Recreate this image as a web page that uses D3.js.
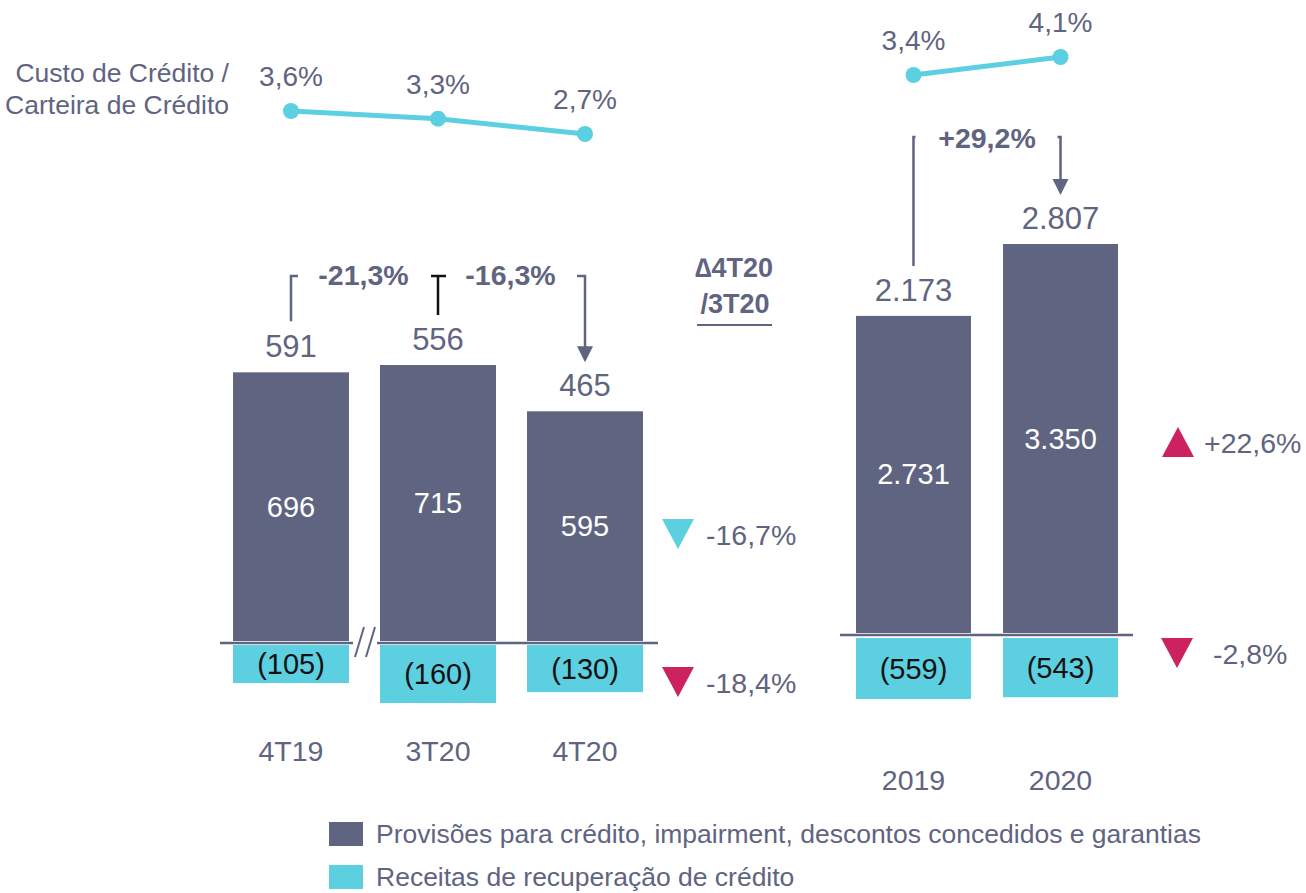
<!DOCTYPE html>
<html>
<head>
<meta charset="utf-8">
<script src="https://cdn.jsdelivr.net/npm/d3@7"></script>
<style>
  body { margin: 0; background: #fff; }
  text { font-family: "Liberation Sans", Arial, sans-serif; }
</style>
</head>
<body>
<div id="chart"></div>
<script>
// quarterly panel
const quarters = ["4T19", "3T20", "4T20"];
const quarterProv = [696, 715, 595];
const quarterRecov = [105, 160, 130];
const quarterNet = [591, 556, 465];
const quarterCost = [3.6, 3.3, 2.7];
// yearly panel
const years = ["2019", "2020"];
const yearProv = [2731, 3350];
const yearRecov = [559, 543];
const yearNet = [2173, 2807];
const yearCost = [3.4, 4.1];
// variations
const netChangeQ = ["-21,3%", "-16,3%"];
const netChangeY = "+29,2%";
const provChangeQ = "-16,7%", recovChangeQ = "-18,4%";
const provChangeY = "+22,6%", recovChangeY = "-2,8%";
const legendItems = ["Provisões para crédito, impairment, descontos concedidos e garantias",
  "Receitas de recuperação de crédito"];

const DARK = "#5f6481", CYAN = "#5ccfe1", MAG = "#cc2360", TXT = "#5f6481";

const br = d3.formatLocale({decimal: ",", thousands: ".", grouping: [3], currency: ["R$", ""]});
const fmtInt = br.format(",d");
const fmtPct = v => br.format(".1f")(v) + "%";

const svg = d3.select("#chart").append("svg")
  .attr("width", 1306).attr("height", 893);

// scales
const xQ = d3.scaleBand().domain(quarters).range([233, 643]).paddingInner(0.211);
const xY = d3.scaleBand().domain(years).range([856, 1118]).paddingInner(0.218);
const yQ = d3.scaleLinear().domain([0, 715]).range([641, 365]);
const yQn = d3.scaleLinear().domain([0, 160]).range([645, 703]);
const yY = d3.scaleLinear().domain([0, 3350]).range([633, 244]);
const yYn = d3.scaleLinear().domain([0, 559]).range([638, 699]);
const lineQ = d3.scaleLinear().domain([2.7, 3.6]).range([134, 111]);
const lineY = d3.scaleLinear().domain([3.4, 4.1]).range([75, 57]);

function panel(cats, x, y, yn, prov, recov, net, cost, yl, axisX, axisY, catY) {
  const g = svg.append("g");
  const cx = c => x(c) + x.bandwidth() / 2;

  g.selectAll(".prov").data(cats).enter().append("rect")
    .attr("x", d => x(d)).attr("width", x.bandwidth())
    .attr("y", (d, i) => y(prov[i])).attr("height", (d, i) => y(0) - y(prov[i]))
    .attr("fill", DARK);
  g.selectAll(".recov").data(cats).enter().append("rect")
    .attr("x", d => x(d)).attr("width", x.bandwidth())
    .attr("y", yn(0)).attr("height", (d, i) => yn(recov[i]) - yn(0))
    .attr("fill", CYAN);

  g.append("line").attr("x1", axisX[0]).attr("x2", axisX[1])
    .attr("y1", axisY).attr("y2", axisY)
    .attr("stroke", DARK).attr("stroke-width", 2.5);

  // values inside bars
  g.selectAll(".pv").data(cats).enter().append("text")
    .attr("x", cx).attr("y", (d, i) => (y(prov[i]) + y(0)) / 2)
    .attr("text-anchor", "middle").attr("dominant-baseline", "central")
    .attr("fill", "#fff").style("font-size", "29px")
    .text((d, i) => fmtInt(prov[i]));
  g.selectAll(".rv").data(cats).enter().append("text")
    .attr("x", cx).attr("y", (d, i) => (yn(recov[i]) + yn(0)) / 2)
    .attr("text-anchor", "middle").attr("dominant-baseline", "central")
    .attr("fill", "#111").style("font-size", "29px")
    .text((d, i) => "(" + fmtInt(recov[i]) + ")");
  // net values on top
  g.selectAll(".nv").data(cats).enter().append("text")
    .attr("x", cx).attr("y", (d, i) => y(prov[i]) - 15)
    .attr("text-anchor", "middle")
    .attr("fill", TXT).style("font-size", "31px")
    .text((d, i) => fmtInt(net[i]));
  // categories
  g.selectAll(".cat").data(cats).enter().append("text")
    .attr("x", cx).attr("y", catY)
    .attr("text-anchor", "middle")
    .attr("fill", TXT).style("font-size", "28.5px")
    .text(d => d);

  // cost line
  const line = d3.line().x((d, i) => cx(cats[i])).y(d => yl(d));
  g.append("path").datum(cost).attr("d", line)
    .attr("fill", "none").attr("stroke", CYAN).attr("stroke-width", 5);
  g.selectAll(".pt").data(cost).enter().append("circle")
    .attr("cx", (d, i) => cx(cats[i])).attr("cy", d => yl(d)).attr("r", 8)
    .attr("fill", CYAN);
  g.selectAll(".pl").data(cost).enter().append("text")
    .attr("x", (d, i) => cx(cats[i])).attr("y", d => yl(d) - 25)
    .attr("text-anchor", "middle")
    .attr("fill", TXT).style("font-size", "28px")
    .text(d => fmtPct(d));
  return cx;
}

const cxQ = panel(quarters, xQ, yQ, yQn, quarterProv, quarterRecov, quarterNet, quarterCost,
  lineQ, [220, 658], 643, 761);
const cxY = panel(years, xY, yY, yYn, yearProv, yearRecov, yearNet, yearCost,
  lineY, [840, 1133], 635, 790);

// break marks on the left axis
svg.append("rect").attr("x", 353).attr("y", 638).attr("width", 24).attr("height", 10).attr("fill", "#fff");
[[355, 657, 364, 627], [366, 657, 375, 627]].forEach(l => {
  svg.append("line").attr("x1", l[0]).attr("y1", l[1]).attr("x2", l[2]).attr("y2", l[3])
    .attr("stroke", DARK).attr("stroke-width", 2);
});

// label for line
svg.append("text").attr("x", 229).attr("y", 82).attr("text-anchor", "end")
  .attr("fill", TXT).style("font-size", "26.5px").text("Custo de Crédito /");
svg.append("text").attr("x", 229).attr("y", 114).attr("text-anchor", "end")
  .attr("fill", TXT).style("font-size", "26.5px").text("Carteira de Crédito");

// variation brackets
const gs = svg.append("g").attr("stroke-width", 2.5).attr("fill", "none");
function arrowHead(x, tip) {
  svg.append("path")
    .attr("d", `M${x - 8},${tip - 16}L${x + 8},${tip - 16}L${x},${tip}Z`)
    .attr("fill", DARK);
}
const topQ = 276;
const q0 = cxQ(quarters[0]), q1 = cxQ(quarters[1]), q2 = cxQ(quarters[2]);
gs.append("path").attr("d", `M${q0 + 7},${topQ}H${q0}V${yQ(quarterProv[0]) - 51}`).attr("stroke", DARK);
gs.append("path").attr("d", `M${q1 - 7},${topQ}H${q1 + 8}M${q1},${topQ}V${yQ(quarterProv[1]) - 50}`).attr("stroke", "#111");
gs.append("path").attr("d", `M${q2 - 8},${topQ}H${q2}V${yQ(quarterProv[2]) - 52}`).attr("stroke", DARK);
arrowHead(q2, yQ(quarterProv[2]) - 49);
svg.append("text").attr("x", (q0 + q1) / 2 - 1).attr("y", 285).attr("text-anchor", "middle")
  .attr("fill", TXT).style("font-size", "28.5px").style("font-weight", "bold").text(netChangeQ[0]);
svg.append("text").attr("x", (q1 + q2) / 2 - 1).attr("y", 285).attr("text-anchor", "middle")
  .attr("fill", TXT).style("font-size", "28.5px").style("font-weight", "bold").text(netChangeQ[1]);

const y0 = cxY(years[0]), y1 = cxY(years[1]);
gs.append("path").attr("d", `M${y0 + 2},${137}H${y0}V${yY(yearProv[0]) - 50}`).attr("stroke", DARK);
gs.append("path").attr("d", `M${y1 - 3},${137}H${y1}V${180}`).attr("stroke", DARK);
arrowHead(y1, 195);
svg.append("text").attr("x", (y0 + y1) / 2).attr("y", 148).attr("text-anchor", "middle")
  .attr("fill", TXT).style("font-size", "28.5px").style("font-weight", "bold").text(netChangeY);

// Δ label
svg.append("text").attr("x", 734).attr("y", 277).attr("text-anchor", "middle")
  .attr("fill", TXT).style("font-size", "27px").style("font-weight", "bold").text("∆4T20");
svg.append("text").attr("x", 735).attr("y", 313).attr("text-anchor", "middle")
  .attr("fill", TXT).style("font-size", "27px").style("font-weight", "bold").text("/3T20");
svg.append("line").attr("x1", 697).attr("x2", 772).attr("y1", 325).attr("y2", 325)
  .attr("stroke", TXT).attr("stroke-width", 2);

// change markers
function marker(x, cy, up, color, label, lx) {
  const h = 15, w = 16;
  const d = up ? `M${x - w},${cy + h}L${x + w},${cy + h}L${x},${cy - h}Z`
               : `M${x - w},${cy - h}L${x + w},${cy - h}L${x},${cy + h}Z`;
  svg.append("path").attr("d", d).attr("fill", color);
  svg.append("text").attr("x", lx).attr("y", cy + 1).attr("dominant-baseline", "central")
    .attr("fill", TXT).style("font-size", "28.5px").text(label);
}
marker(678, 534, false, CYAN, provChangeQ, 706);
marker(678, 682, false, MAG, recovChangeQ, 706);
marker(1178, 442, true, MAG, provChangeY, 1204);
marker(1177, 653, false, MAG, recovChangeY, 1213);

// legend
const leg = svg.append("g");
leg.selectAll("rect").data(legendItems).enter().append("rect")
  .attr("x", 329).attr("y", (d, i) => 822 + i * 43).attr("width", 34).attr("height", 24)
  .attr("fill", (d, i) => i === 0 ? DARK : CYAN);
leg.selectAll("text").data(legendItems).enter().append("text")
  .attr("x", 376).attr("y", (d, i) => 834 + i * 43).attr("dominant-baseline", "central")
  .attr("fill", TXT).style("font-size", "26.5px").text(d => d);
</script>
</body>
</html>
